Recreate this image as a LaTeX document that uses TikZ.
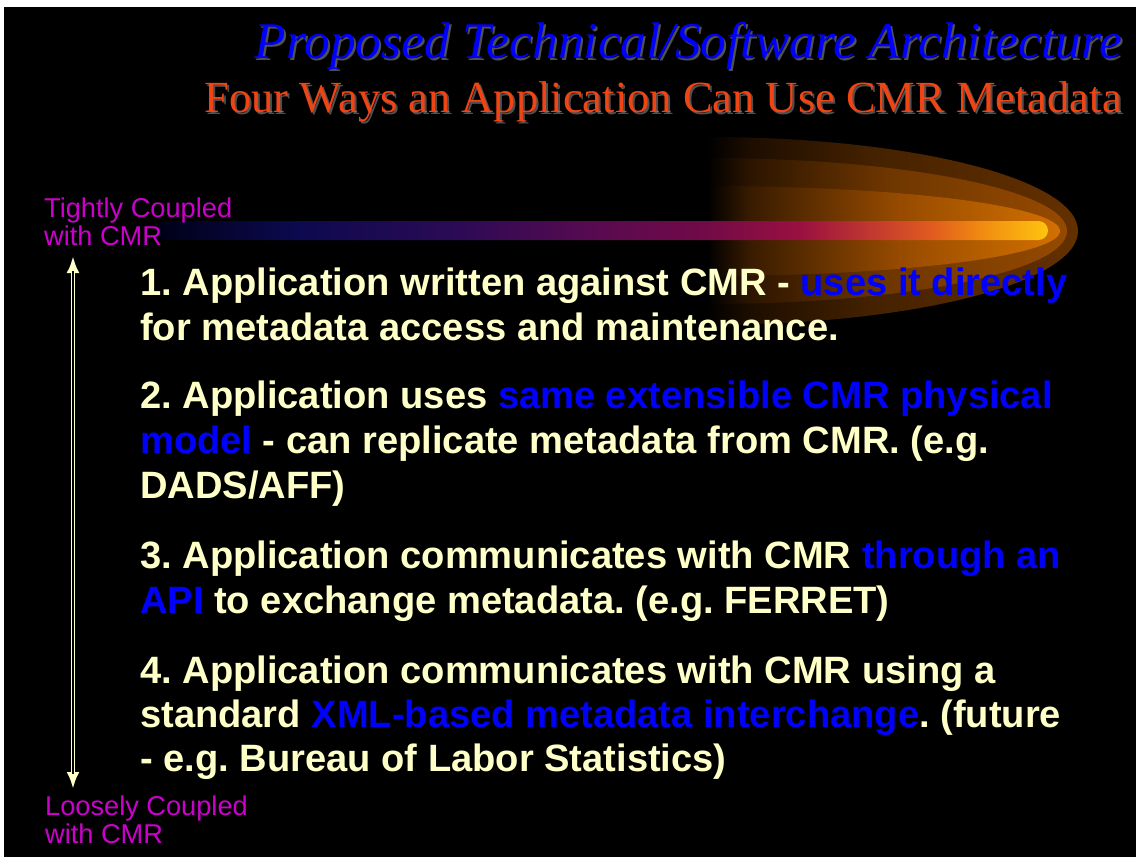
\documentclass[tikz,border=0pt]{standalone}
\usepackage{fontspec}
\setmainfont{Liberation Serif}
\newfontfamily\sansfam{Liberation Sans}
\usetikzlibrary{arrows.meta}

\definecolor{cream}{RGB}{255,255,200}
\definecolor{keyblue}{RGB}{0,0,255}
\definecolor{couplecol}{RGB}{204,0,204}
\definecolor{titleblue}{RGB}{0,0,255}
\definecolor{subred}{RGB}{240,68,20}
\definecolor{shadowgray}{RGB}{80,80,80}
% comet bar colours, left to right
\definecolor{cbA}{RGB}{0,0,24}
\definecolor{cbB}{RGB}{12,10,80}
\definecolor{cbC}{RGB}{42,10,85}
\definecolor{cbD}{RGB}{90,10,80}
\definecolor{cbE}{RGB}{112,10,72}
\definecolor{cbF}{RGB}{154,16,64}
\definecolor{cbG}{RGB}{192,56,48}
\definecolor{cbH}{RGB}{224,90,32}
\definecolor{cbI}{RGB}{240,138,16}
\definecolor{cbJ}{RGB}{255,196,16}
% glow layers: dark, mid and bright tone of each
\definecolor{goAd}{RGB}{30,14,0}
\definecolor{goAm}{RGB}{70,34,0}
\definecolor{goAb}{RGB}{100,48,0}
\definecolor{goBd}{RGB}{44,21,0}
\definecolor{goBm}{RGB}{110,54,0}
\definecolor{goBb}{RGB}{150,74,0}
\definecolor{goCd}{RGB}{56,27,0}
\definecolor{goCm}{RGB}{150,74,0}
\definecolor{goCb}{RGB}{210,112,0}

\pgfdeclarehorizontalshading{comet}{100bp}{%
  color(0bp)=(cbA); color(25bp)=(cbA); color(33bp)=(cbB); color(41.4bp)=(cbC);
  color(49.9bp)=(cbD); color(55.5bp)=(cbE); color(61.1bp)=(cbF); color(65bp)=(cbG);
  color(68.4bp)=(cbH); color(71.2bp)=(cbI); color(75bp)=(cbJ); color(100bp)=(cbJ)}
\pgfdeclarehorizontalshading{glowouter}{100bp}{%
  color(0bp)=(black); color(25bp)=(black); color(31bp)=(goAd); color(48bp)=(goAm);
  color(75bp)=(goAb); color(100bp)=(goAb)}
\pgfdeclarehorizontalshading{glowmiddle}{100bp}{%
  color(0bp)=(black); color(25bp)=(black); color(31bp)=(goBd); color(50bp)=(goBm);
  color(75bp)=(goBb); color(100bp)=(goBb)}
\pgfdeclarehorizontalshading{glowinner}{100bp}{%
  color(0bp)=(black); color(25bp)=(black); color(31bp)=(goCd); color(52bp)=(goCm);
  color(75bp)=(goCb); color(100bp)=(goCb)}

\newcommand\keyword[1]{\textcolor{keyblue}{#1}}

\tikzset{
  bodyline/.style={inner sep=0pt, anchor=base west, text=cream,
    font=\sansfam\bfseries\fontsize{38.1}{45}\selectfont},
  couplelbl/.style={inner sep=0pt, anchor=base west, text=couplecol,
    font=\sansfam\fontsize{27.2}{30}\selectfont},
  titletext/.style={inner sep=0pt, anchor=base east,
    font=\itshape\fontsize{51.4}{53}\selectfont},
  subtext/.style={inner sep=0pt, anchor=base east,
    font=\fontsize{44.5}{46}\selectfont},
  scaleline/.style={draw=cream, line width=4.6pt,
    {Latex[length=17pt,width=13pt]}-{Latex[length=17pt,width=13pt]}},
  scalegap/.style={draw=black, line width=1.4pt, shorten <=15pt, shorten >=15pt}
}

\begin{document}
\frenchspacing
\begin{tikzpicture}[x=1pt,y=-1pt]
\useasboundingbox (0,0) rectangle (1136,857);
% slide background with its thin white frame
\fill[white] (0,0) rectangle (1136,857);
\fill[black] (4,7) rectangle (1136,857);

% headings, with drop shadow
\node[titletext, text=shadowgray] (titleshadow) at (1124,60) {Proposed Technical/Software Architecture};
\node[titletext, text=titleblue] (title) at (1122,58) {Proposed Technical/Software Architecture};
\node[subtext, text=shadowgray] (subshadow) at (1124,114) {Four Ways an Application Can Use CMR Metadata};
\node[subtext, text=subred] (subtitle) at (1122,112) {Four Ways an Application Can Use CMR Metadata};

% glow round the head of the comet
\shade[shading=glowouter]
  (707,137) arc[start angle=-90, end angle=90, x radius=371, y radius=94] -- cycle;
\shade[shading=glowmiddle]
  (707,158) arc[start angle=-90, end angle=90, x radius=360, y radius=73] -- cycle;
\shade[shading=glowinner]
  (707,186) arc[start angle=-90, end angle=90, x radius=353, y radius=45] -- cycle;

% comet bar
\shade[shading=comet, rounded corners=9.5pt] (157,221) rectangle (1048,240);

% coupling scale
\node[couplelbl] (tight1) at (44,217) {Tightly Coupled};
\node[couplelbl] (tight2) at (44,245) {with CMR};
\node[couplelbl] (loose1) at (45,815) {Loosely Coupled};
\node[couplelbl] (loose2) at (45,843) {with CMR};
\coordinate (scaletop) at (73,256);
\coordinate (scalebot) at (73,789);
\draw[scaleline] (scaletop) -- (scalebot);
\draw[scalegap] (scaletop) -- (scalebot);

% the four ways
\node[bodyline] (w1a) at (140,295) {1. Application written against CMR - \keyword{uses it directly}};
\node[bodyline] (w1b) at (140,340) {for metadata access and maintenance.};
\node[bodyline] (w2a) at (140,408) {2. Application uses \keyword{same extensible CMR physical}};
\node[bodyline] (w2b) at (140,453) {\keyword{model} - can replicate metadata from CMR. (e.g.};
\node[bodyline] (w2c) at (140,498) {DADS/AFF)};
\node[bodyline] (w3a) at (140,568) {3. Application communicates with CMR \keyword{through an}};
\node[bodyline] (w3b) at (140,613) {\keyword{API} to exchange metadata. (e.g. FERRET)};
\node[bodyline] (w4a) at (140,683) {4. Application communicates with CMR using a};
\node[bodyline] (w4b) at (140,727) {standard \keyword{XML-based metadata interchange}. (future};
\node[bodyline] (w4c) at (140,771) {- e.g. Bureau of Labor Statistics)};
\end{tikzpicture}
\end{document}
